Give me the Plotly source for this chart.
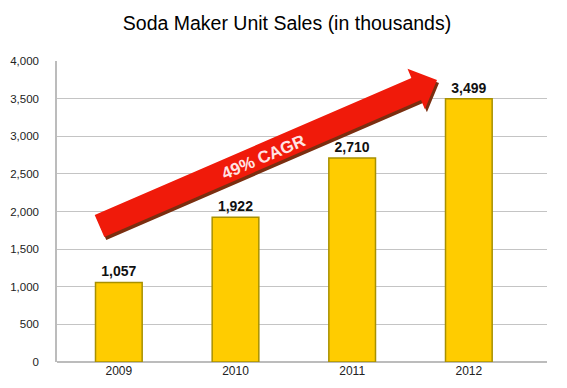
import plotly.graph_objects as go

years = ["2009", "2010", "2011", "2012"]
sales = [1057, 1922, 2710, 3499]
y_ticks = [0, 500, 1000, 1500, 2000, 2500, 3000, 3500, 4000]
title_text = "Soda Maker Unit Sales (in thousands)"
arrow_label = "49% CAGR"

OFF = 8  # page body margin
W, H = 567 - OFF, 388 - OFF
L, R, T, B = 57 - OFF, 20, 61 - OFF, 26
pw, ph = W - L - R, H - T - B

def to_paper(sx, sy):
    px, py = sx - OFF, sy - OFF
    return (px - L) / pw, (H - B - py) / ph

def path_from(pts, dx=0, dy=0):
    s = ""
    for i, (x, y) in enumerate(pts):
        xp, yp = to_paper(x + dx, y + dy)
        s += ("M" if i == 0 else "L") + f"{xp:.5f},{yp:.5f} "
    return s + "Z"

arrow_px = [(104.3, 237), (94.7, 215), (411.4, 78), (407.5, 68.8),
            (437, 80), (424.9, 109.2), (421, 100)]

fig = go.Figure()
fig.add_trace(go.Bar(
    x=years, y=sales, width=0.4,
    marker=dict(color="#FFCC00", line=dict(color="#A89000", width=1.5)),
    texttemplate="<b>%{y:,}</b>", textposition="outside",
    textfont=dict(family="Liberation Sans, Arial", size=14, color="#111"),
    cliponaxis=False,
))

fig.add_shape(type="path", xref="paper", yref="paper",
              path=path_from(arrow_px, 2, 3), fillcolor="#7a2e10",
              line=dict(width=0), layer="above")
fig.add_shape(type="path", xref="paper", yref="paper",
              path=path_from(arrow_px), fillcolor="#F01A0A",
              line=dict(width=0), layer="above")

ax, ay = to_paper(263, 157)
fig.add_annotation(x=ax, y=ay, xref="paper", yref="paper", text=f"<b>{arrow_label}</b>",
                   showarrow=False, textangle=-23, xanchor="center", yanchor="middle",
                   font=dict(family="Liberation Sans, Arial", size=17, color="#FFE4E4"))

fig.update_layout(
    width=W, height=H,
    margin=dict(l=L, r=R, t=T, b=B, autoexpand=False),
    paper_bgcolor="white", plot_bgcolor="white",
    showlegend=False,
    title=dict(text=title_text, x=(287 - OFF) / W, xanchor="center",
               y=1 - (23 - OFF) / H, yanchor="middle",
               font=dict(family="Liberation Sans, Arial", size=19.5, color="#000")),
    font=dict(family="Liberation Sans, Arial", size=11, color="#222"),
    bargap=0.6,
)
fig.update_xaxes(range=[-0.53, 3.67], showgrid=False, showline=False, ticks="",
                 automargin=False, tickfont=dict(size=12, color="#222"))
fig.update_yaxes(range=[0, 4000], tickvals=y_ticks, tickformat=",", showgrid=True,
                 gridcolor="#c4c4c4", gridwidth=1.2, showline=True, linecolor="#bcbcbc",
                 linewidth=1.5, zeroline=True, zerolinecolor="#bcbcbc", zerolinewidth=1.5,
                 automargin=False, ticklabelstandoff=14, tickfont=dict(size=11.5, color="#222"))

fig.write_html("out.html")
